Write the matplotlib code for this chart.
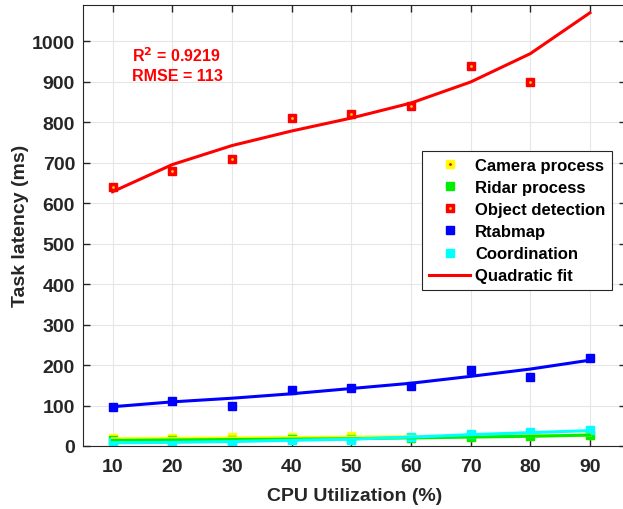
import numpy as np
import matplotlib.pyplot as plt
from matplotlib.legend_handler import HandlerTuple

plt.rcParams['font.family'] = ['Liberation Sans', 'DejaVu Sans']
plt.rcParams['font.weight'] = 'bold'

cpu = [10, 20, 30, 40, 50, 60, 70, 80, 90]

# measured latencies (ms)
camera = [19, 20, 22, 23, 24, 22, 22, 25, 27]
ridar = [14, 15, 16, 17, 18, 20, 23, 25, 26]
objdet = [639, 680, 709, 810, 820, 839, 939, 899]
rtab = [97, 110, 100, 139, 144, 149, 187, 170, 218]
coord = [10, 10, 11, 15, 16, 23, 30, 35, 40]

# quadratic fit curves
camera_fit = [18, 19, 20, 21, 22, 23, 24, 25, 27]
ridar_fit = [14, 15, 16, 17, 18, 20, 22, 24, 27]
objdet_fit = [628, 695, 742, 778, 810, 847, 899, 969, 1070]
rtab_fit = [97, 109, 118, 129, 142, 155, 172, 190, 212]
coord_fit = [8, 9, 11, 14, 17, 22, 28, 33, 38]

fig = plt.figure(figsize=(6.23, 5.10), dpi=100)
ax = fig.add_axes([82.7/623, 63/510, 543/623, 441.3/510])

ms = 5.5
h_cam, = ax.plot(cpu, camera, 's', color='yellow', ms=ms, mec='yellow')
h_rid, = ax.plot(cpu, ridar, 's', color='#00ee00', ms=ms, mec='#00ee00')
h_obj, = ax.plot(cpu[:len(objdet)], objdet, 's', color='red', ms=ms, mec='red')
ax.plot(cpu[:len(objdet)], objdet, '.', color='#ffcc00', ms=2)
h_rtb, = ax.plot(cpu, rtab, 's', color='blue', ms=ms, mec='blue')
h_crd, = ax.plot(cpu, coord, 's', color='cyan', ms=ms, mec='cyan')

ax.plot(cpu, camera_fit, '-', color='yellow', lw=2.2)
ax.plot(cpu, ridar_fit, '-', color='#00ee00', lw=2.2)
h_fit, = ax.plot(cpu, objdet_fit, '-', color='red', lw=2.2)
ax.plot(cpu, rtab_fit, '-', color='blue', lw=2.2)
ax.plot(cpu, coord_fit, '-', color='cyan', lw=2.2)

ax.text(13.2, 966, r'R$^\mathbf{2}$ = 0.9219', color='red', fontsize=11.5,
        fontweight='bold', va='center')
ax.text(13.2, 914, 'RMSE = 113', color='red', fontsize=11.5,
        fontweight='bold', va='center')

ax.set_xlim(5, 96)
ax.set_ylim(0, 1090)
ax.set_xticks(cpu)
ax.set_yticks(range(0, 1001, 100))
ax.grid(True, color='#e6e6e6', lw=0.8)
ax.set_axisbelow(True)
ax.tick_params(direction='in', top=True, right=True, labelsize=14,
               colors='#262626', length=5, width=1)
ax.tick_params(axis='x', pad=9)
ax.tick_params(axis='y', pad=5.5)
for s in ax.spines.values():
    s.set_color('#262626')
ax.set_xlabel('CPU Utilization (%)', fontsize=14, fontweight='bold',
              color='#262626', labelpad=8)
ax.set_ylabel('Task latency (ms)', fontsize=14, fontweight='bold',
              color='#262626', labelpad=2)

dot_r, = ax.plot([], [], '.', color='red', ms=2)
dot_y, = ax.plot([], [], '.', color='#ffcc00', ms=2)
leg = fig.legend([(h_cam, dot_r), h_rid, (h_obj, dot_y), h_rtb, h_crd, h_fit],
                 ['Camera process', 'Ridar process', 'Object detection',
                  'Rtabmap', 'Coordination', 'Quadratic fit'],
                 handler_map={tuple: HandlerTuple(ndivide=1)},
                 loc='upper left', bbox_to_anchor=(422/623, 1 - 152/510),
                 fontsize=12, fancybox=False, framealpha=1, edgecolor='#262626',
                 labelspacing=0.43, handlelength=2.5,
                 handletextpad=0.3, borderaxespad=0, borderpad=0.4)
leg.get_frame().set_linewidth(0.8)

fig.savefig('out.png', dpi=100)
